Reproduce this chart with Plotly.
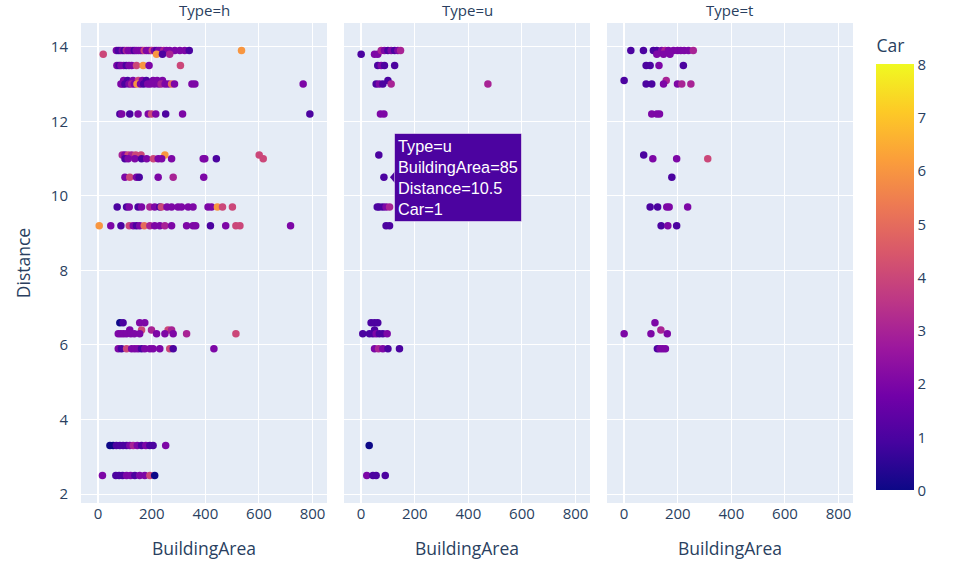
import plotly.graph_objects as go
from plotly.subplots import make_subplots
from plotly.colors import sample_colorscale

# ---------------- data ----------------
types = ["h", "u", "t"]

h_area = [68, 75, 82, 90, 97, 105, 112, 120, 128, 135, 142, 150, 158, 165, 172, 180, 188, 195, 202, 210,
          218, 226, 234, 245, 255, 267, 286, 305, 323, 340, 535,
          19, 218, 240, 267,
          70, 78, 85, 95, 105, 115, 125, 143, 168, 190, 307,
          95, 110, 130, 150, 165, 180, 205, 220, 240,
          85, 92, 100, 115, 125, 135, 145, 158, 170, 185, 195, 210, 225, 235, 250, 262, 274, 285, 350, 361, 765,
          81, 88, 118, 149, 187, 199, 215, 252, 315, 790,
          90, 100, 112, 125, 140, 160, 249, 601,
          100, 112, 137, 162, 181, 206, 224, 237, 274, 392, 398, 441, 616,
          100, 118, 143, 153, 224, 280, 394,
          71, 106, 116, 149, 162, 193, 211, 230, 236, 257, 274, 298, 311, 336, 354, 410, 423, 445, 464, 501,
          4, 47, 85, 116, 131, 143, 155, 172, 193, 211, 230, 249, 274, 330, 354, 364, 419, 476, 514, 529, 718,
          81, 93, 155, 174,
          118, 162, 199, 261, 274,
          75, 85, 95, 106, 122, 135, 155, 218, 249, 280, 330, 514,
          75, 87, 106, 125, 137, 149, 162, 174, 193, 205, 230, 267, 280, 432,
          44, 56, 68, 81, 93, 106, 118, 131, 146, 162, 178, 193, 205, 252,
          16, 66, 78, 91, 106, 121, 137, 155, 174, 193, 211]
h_dist = ([13.9] * 31 + [13.8] * 4 + [13.5] * 11 + [13.1] * 9 + [13.0] * 21 + [12.2] * 10 + [11.1] * 8
          + [11.0] * 13 + [10.5] * 7 + [9.7] * 20 + [9.2] * 21 + [6.6] * 4 + [6.4] * 5 + [6.3] * 12
          + [5.9] * 14 + [3.3] * 14 + [2.5] * 11)
h_car = [2, 1, 1, 2, 1, 3, 2, 2, 2, 1, 2, 2, 2, 2, 4, 2, 2, 2, 4, 2,
         1, 2, 2, 3, 2, 2, 2, 2, 2, 1, 6,
         4, 6, 1, 3,
         2, 1, 2, 2, 1, 2, 2, 4, 6, 2, 4,
         2, 1, 2, 4, 2, 1, 2, 2, 2,
         2, 2, 1, 2, 3, 2, 6, 2, 1, 2, 2, 2, 2, 3, 2, 2, 5, 2, 2, 2, 2,
         1, 2, 1, 2, 2, 4, 2, 1, 2, 1,
         3, 2, 4, 3, 4, 4, 6, 4,
         1, 2, 2, 1, 2, 4, 2, 2, 2, 2, 2, 1, 4,
         2, 4, 2, 1, 2, 3, 2,
         1, 1, 2, 1, 2, 3, 2, 1, 4, 2, 2, 2, 2, 2, 2, 2, 2, 6, 4, 4,
         6, 2, 1, 4, 2, 1, 2, 5, 3, 2, 2, 3, 2, 2, 2, 2, 1, 2, 4, 4, 2,
         0, 1, 2, 2,
         2, 4, 3, 4, 3,
         2, 2, 2, 2, 2, 2, 2, 2, 2, 2, 3, 4,
         2, 1, 4, 2, 2, 2, 1, 2, 2, 2, 2, 4, 1, 2,
         0, 0, 1, 1, 1, 1, 2, 3, 2, 1, 2, 1, 1, 2,
         2, 1, 1, 1, 2, 2, 1, 2, 2, 4, 0]

u_area = [0, 50, 62, 75, 87, 100, 112, 125, 137, 147,
          62, 75, 87, 125,
          100,
          56, 68, 81, 112, 473,
          72, 85,
          66,
          85,
          60, 68, 81, 93, 106,
          93, 106,
          37, 50, 62,
          50,
          6, 31, 44, 56, 68, 81, 97,
          50, 65, 81, 100, 143,
          30,
          21, 44, 56, 90]
u_dist = ([13.8, 13.8, 13.8] + [13.9] * 7 + [13.5] * 4 + [13.1] + [13.0] * 5 + [12.2] * 2 + [11.1]
          + [10.5] + [9.7] * 5 + [9.2] * 2 + [6.6] * 3 + [6.4] + [6.3] * 7 + [5.9] * 5 + [3.3] + [2.5] * 4)
u_car = [1, 2, 2, 3, 2, 1, 2, 1, 2, 3,
         1, 2, 1, 1,
         1,
         1, 2, 1, 3, 3,
         2, 2,
         1,
         1,
         1, 1, 1, 2, 3,
         1, 1,
         1, 1, 1,
         1,
         1, 1, 1, 2, 1, 1, 2,
         2, 3, 2, 1, 1,
         0,
         2, 1, 1, 1]

t_area = [25, 72, 109, 122, 140, 153, 165, 184, 199, 211, 224, 240, 258,
          122, 147, 171,
          82, 97, 130, 221,
          0, 157,
          82, 103, 147, 199, 215, 249,
          103, 122, 132,
          73,
          107, 196, 312,
          178,
          97, 125, 159, 168, 237,
          138, 163, 196,
          115,
          137,
          0, 100, 161,
          124, 134, 144, 154]
t_dist = ([13.9] * 13 + [13.8] * 3 + [13.5] * 4 + [13.1] * 2 + [13.0] * 6 + [12.2] * 3 + [11.1]
          + [11.0] * 3 + [10.5] + [9.7] * 5 + [9.2] * 3 + [6.6] + [6.4] + [6.3] * 3 + [5.9] * 4)
t_car = [1, 1, 1, 1, 2, 3, 2, 2, 2, 2, 2, 2, 3,
         2, 2, 2,
         1, 1, 2, 1,
         1, 3,
         1, 1, 2, 2, 3, 3,
         2, 2, 2,
         1,
         2, 2, 4,
         1,
         1, 1, 2, 2, 2,
         1, 2, 1,
         2,
         3,
         2, 2, 2,
         1, 2, 2, 2]

x_ticks = [0, 200, 400, 600, 800]
y_ticks = [2, 4, 6, 8, 10, 12, 14]
car_ticks = [0, 1, 2, 3, 4, 5, 6, 7, 8]

# hovered point (shown as a hover label in the reference)
hover_type = "u"
hover_area = 85
hover_dist = 10.5

# ---------------- figure ----------------
S = 1.25  # reference was captured at 125% scaling
panels = {"h": (h_area, h_dist, h_car), "u": (u_area, u_dist, u_car), "t": (t_area, t_dist, t_car)}

fig = make_subplots(rows=1, cols=3, shared_yaxes=True, horizontal_spacing=0.022,
                    subplot_titles=[f"Type={t}" for t in types])

for i, t in enumerate(types):
    a, d, c = panels[t]
    fig.add_trace(go.Scatter(
        x=a, y=d, mode="markers",
        marker=dict(color=c, coloraxis="coloraxis", size=6 * S),
        customdata=[t] * len(a),
        hovertemplate="Type=%{customdata}<br>BuildingArea=%{x}<br>Distance=%{y}<br>Car=%{marker.color}<extra></extra>",
        showlegend=False), row=1, col=i + 1)
    fig.update_xaxes(title_text="BuildingArea", row=1, col=i + 1)

fig.update_xaxes(range=[-64, 854], tickvals=x_ticks, tickfont=dict(size=12 * S),
                 title=dict(font=dict(size=14 * S), standoff=20), automargin=False,
                 zeroline=True, zerolinewidth=2, zerolinecolor="white")
fig.update_yaxes(range=[1.76, 14.64], tickvals=y_ticks, tickfont=dict(size=12 * S),
                 title_font=dict(size=14 * S), ticklabelstandoff=12, automargin=False)
fig.update_yaxes(title_text="Distance", row=1, col=1)

for ann in fig.layout.annotations:
    ann.font = dict(size=12 * S, color="#2a3f5f")
    ann.yshift = 1

cmap = "Plasma"
fig.update_layout(
    template="plotly",
    width=976, height=565,
    margin=dict(l=81, r=123, t=23, b=62),
    coloraxis=dict(
        colorscale=cmap, cmin=0, cmax=8,
        colorbar=dict(title=dict(text="Car", font=dict(size=14 * S)),
                      tickvals=car_ticks, tickfont=dict(size=12 * S),
                      thickness=30 * S, xpad=8, ypad=10 * S, outlinewidth=0),
    ),
)

# emulate the visible hover label
ha, hd, hc = panels[hover_type]
idx = [k for k in range(len(ha)) if ha[k] == hover_area and hd[k] == hover_dist][0]
hcolor = sample_colorscale(cmap, [hc[idx] / 8])[0]
col = types.index(hover_type) + 1
xr, yr = f"x{col}", f"y{col}"
fig.add_shape(type="path", xref=xr, yref=yr, xsizemode="pixel", ysizemode="pixel",
              xanchor=ha[idx], yanchor=hd[idx], path="M6,0 L12,7 L12,-7 Z",
              fillcolor=hcolor, line=dict(width=0))
fig.add_annotation(
    xref=xr, yref=yr, x=ha[idx], y=hd[idx], xanchor="left", yanchor="middle", xshift=10,
    showarrow=False, align="left",
    text=f"Type={hover_type}<br>BuildingArea={ha[idx]}<br>Distance={hd[idx]}<br>Car={hc[idx]}",
    font=dict(family="Arial", size=13 * S, color="white"),
    bgcolor=hcolor, bordercolor="rgba(255,255,255,0.5)", borderwidth=1, borderpad=3)

fig.write_html("out.html")
